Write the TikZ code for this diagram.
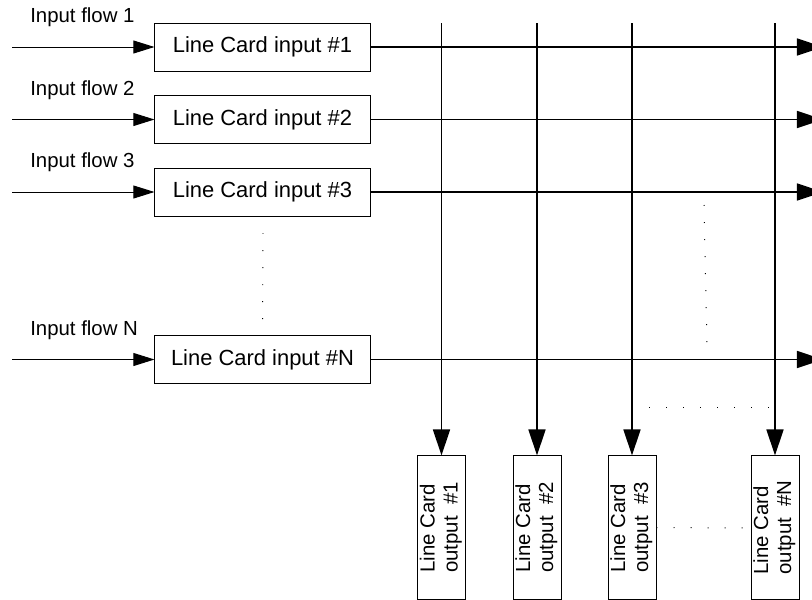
\documentclass[tikz,border=0pt]{standalone}
\usepackage{fontspec}
\setmainfont{Liberation Sans}
\usetikzlibrary{arrows.meta}

\newcommand{\outlabel}[1]{\rotatebox{90}{\begin{tabular}{@{}l@{}}Line Card\\output\ \ \##1\end{tabular}}}

\begin{document}
\begin{tikzpicture}[x=0.025cm, y=-0.025cm,
    font=\fontsize{14.5}{16.5}\selectfont,
    inbox/.style={draw, line width=0.7pt, minimum width=5.375cm, minimum height=1.2cm, inner sep=0pt,
        font=\fontsize{15.6}{18}\selectfont},
    outbox/.style={draw, line width=0.7pt, minimum width=1.2cm, minimum height=3.575cm, inner sep=0pt},
    flowlabel/.style={anchor=base west, inner sep=0pt},
    feed/.style={line width=0.7pt, -{Triangle[length=15pt, width=9.2pt]}},
    bus/.style={line width=1.4pt, -{Triangle[length=18.5pt, width=12pt]}},
    dots/.style={line width=0.7pt, dash pattern=on 0.7pt off 11.4pt}]
    \useasboundingbox (0,0) rectangle (812,600);

    % Line cards, input side
    \node [inbox] (in1) at (262.5,47) {Line Card input \#1};
    \node [inbox] (in2) at (262.5,119.5) {Line Card input \#2};
    \node [inbox] (in3) at (262.5,192) {Line Card input \#3};
    \node [inbox] (inN) at (262.5,359.5) {Line Card input \#N};

    % Input flows
    \node [flowlabel] (flow1) at (30,22.7) {Input flow 1};
    \node [flowlabel] (flow2) at (30,95.2) {Input flow 2};
    \node [flowlabel] (flow3) at (30,167.7) {Input flow 3};
    \node [flowlabel] (flowN) at (30,335.2) {Input flow N};
    \coordinate (src1) at (12,47);
    \coordinate (src2) at (12,119.5);
    \coordinate (src3) at (12,192);
    \coordinate (srcN) at (12,359.5);
    \draw [feed] (src1) -- (in1.west);
    \draw [feed] (src2) -- (in2.west);
    \draw [feed] (src3) -- (in3.west);
    \draw [feed] (srcN) -- (inN.west);

    % Line cards, output side
    \node [outbox] (out1) at (441.5,527.5) {\outlabel{1}};
    \node [outbox] (out2) at (537,527.5) {\outlabel{2}};
    \node [outbox] (out3) at (632,527.5) {\outlabel{3}};
    \node [outbox] (outN) at (775,527.5) {\outlabel{N}};

    % Horizontal buses
    \coordinate (end1) at (823,47);
    \coordinate (end2) at (823,119.5);
    \coordinate (end3) at (823,192);
    \coordinate (endN) at (823,359.5);
    \draw [bus] (in1.east) -- (end1);
    \draw [bus] (in2.east) -- (end2);
    \draw [bus] (in3.east) -- (end3);
    \draw [bus] (inN.east) -- (endN);

    % Vertical buses
    \coordinate (top1) at (441.5,23);
    \coordinate (top2) at (537,23);
    \coordinate (top3) at (632,23);
    \coordinate (topN) at (775,23);
    \draw [bus] (top1) -- (out1.north);
    \draw [bus] (top2) -- (out2.north);
    \draw [bus] (top3) -- (out3.north);
    \draw [bus] (topN) -- (outN.north);

    % Dots
    \coordinate (dotA) at (263,233);
    \coordinate (dotB) at (704,205);
    \coordinate (dotC) at (707,345);
    \coordinate (dotD) at (649,407);
    \coordinate (dotE) at (772,407);
    \coordinate (dotF) at (746,528);
    \draw [dots] (dotA) -- (inN.north);
    \draw [dots] (dotB) -- (dotC);
    \draw [dots] (dotD) -- (dotE);
    \draw [dots] (out3.east) -- (dotF);
\end{tikzpicture}
\end{document}
